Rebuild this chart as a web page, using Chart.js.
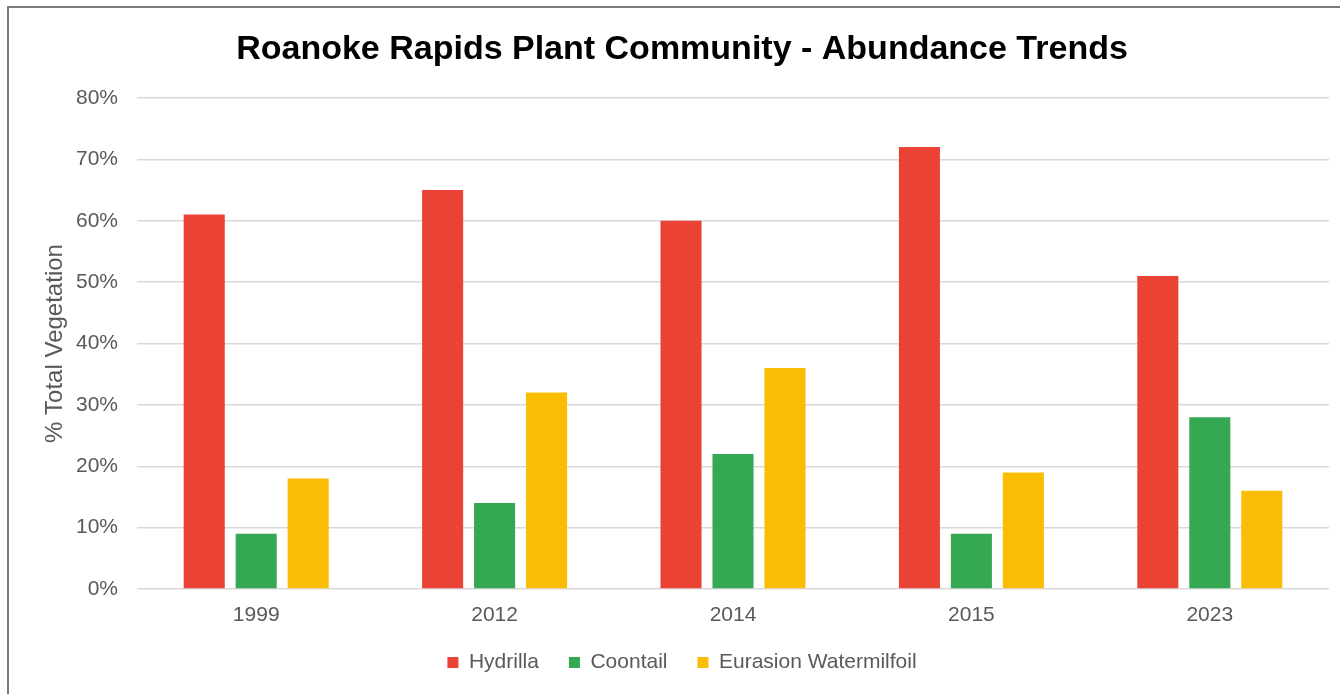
<!DOCTYPE html>
<html>
<head>
<meta charset="utf-8">
<script src="https://cdn.jsdelivr.net/npm/chart.js@4/dist/chart.umd.min.js"></script>
<style>
  html, body { margin: 0; padding: 0; background: #fff; overflow: hidden; }
  #wrap { position: absolute; left: 7px; top: 6px; width: 1346px; height: 700px;
          border: 2px solid #7a7a7a; background: #fff; }
</style>
</head>
<body>
<div id="wrap"><canvas id="chart" width="1346" height="700"></canvas></div>
<script>
  // Data
  const years = ['1999', '2012', '2014', '2015', '2023'];
  const hydrilla = [61, 65, 60, 72, 51];
  const coontail = [9, 14, 22, 9, 28];
  const watermilfoil = [18, 32, 36, 19, 16];
  const yTicks = [0, 10, 20, 30, 40, 50, 60, 70, 80];

  const gray = '#595959';
  const gridColor = '#d9d9d9';
  const font = 'Liberation Sans, Arial, sans-serif';

  function bars(label, data, color) {
    return {
      label: label,
      data: data,
      backgroundColor: color,
      borderWidth: 0,
      categoryPercentage: 0.654,
      barPercentage: 0.79
    };
  }

  new Chart(document.getElementById('chart'), {
    type: 'bar',
    data: {
      labels: years,
      datasets: [
        bars('Hydrilla', hydrilla, '#EA4335'),
        bars('Coontail', coontail, '#34A853'),
        bars('Eurasion Watermilfoil', watermilfoil, '#FBBC04')
      ]
    },
    options: {
      responsive: false,
      animation: false,
      layout: { padding: { left: 26, right: 26, top: 0, bottom: 25 } },
      plugins: {
        title: {
          display: true,
          text: 'Roanoke Rapids Plant Community - Abundance Trends',
          color: '#000',
          font: { family: font, size: 34, weight: 'bold' },
          padding: { top: 21.6, bottom: 27.6 }
        },
        legend: {
          position: 'bottom',
          labels: {
            color: gray,
            font: { family: font, size: 21 },
            boxWidth: 11,
            boxHeight: 11,
            padding: 30
          }
        },
        tooltip: { enabled: false }
      },
      scales: {
        x: {
          afterFit: function(scale) { scale.height = 33; },
          grid: { display: false, drawTicks: false },
          border: { display: false },
          ticks: { color: gray, font: { family: font, size: 21 }, padding: 14 }
        },
        y: {
          min: 0,
          max: 80,
          afterBuildTicks: function(scale) {
            scale.ticks = yTicks.map(v => ({ value: v }));
          },
          afterFit: function(scale) { scale.width = 102; },
          grid: { color: gridColor, lineWidth: 1.5, drawTicks: false },
          border: { display: false },
          ticks: {
            color: gray,
            font: { family: font, size: 21 },
            padding: 19,
            callback: v => v + '%'
          },
          title: {
            display: true,
            text: '% Total Vegetation',
            color: gray,
            font: { family: font, size: 24 },
            padding: { top: 5.6, bottom: 0 }
          }
        }
      }
    }
  });
</script>
</body>
</html>
